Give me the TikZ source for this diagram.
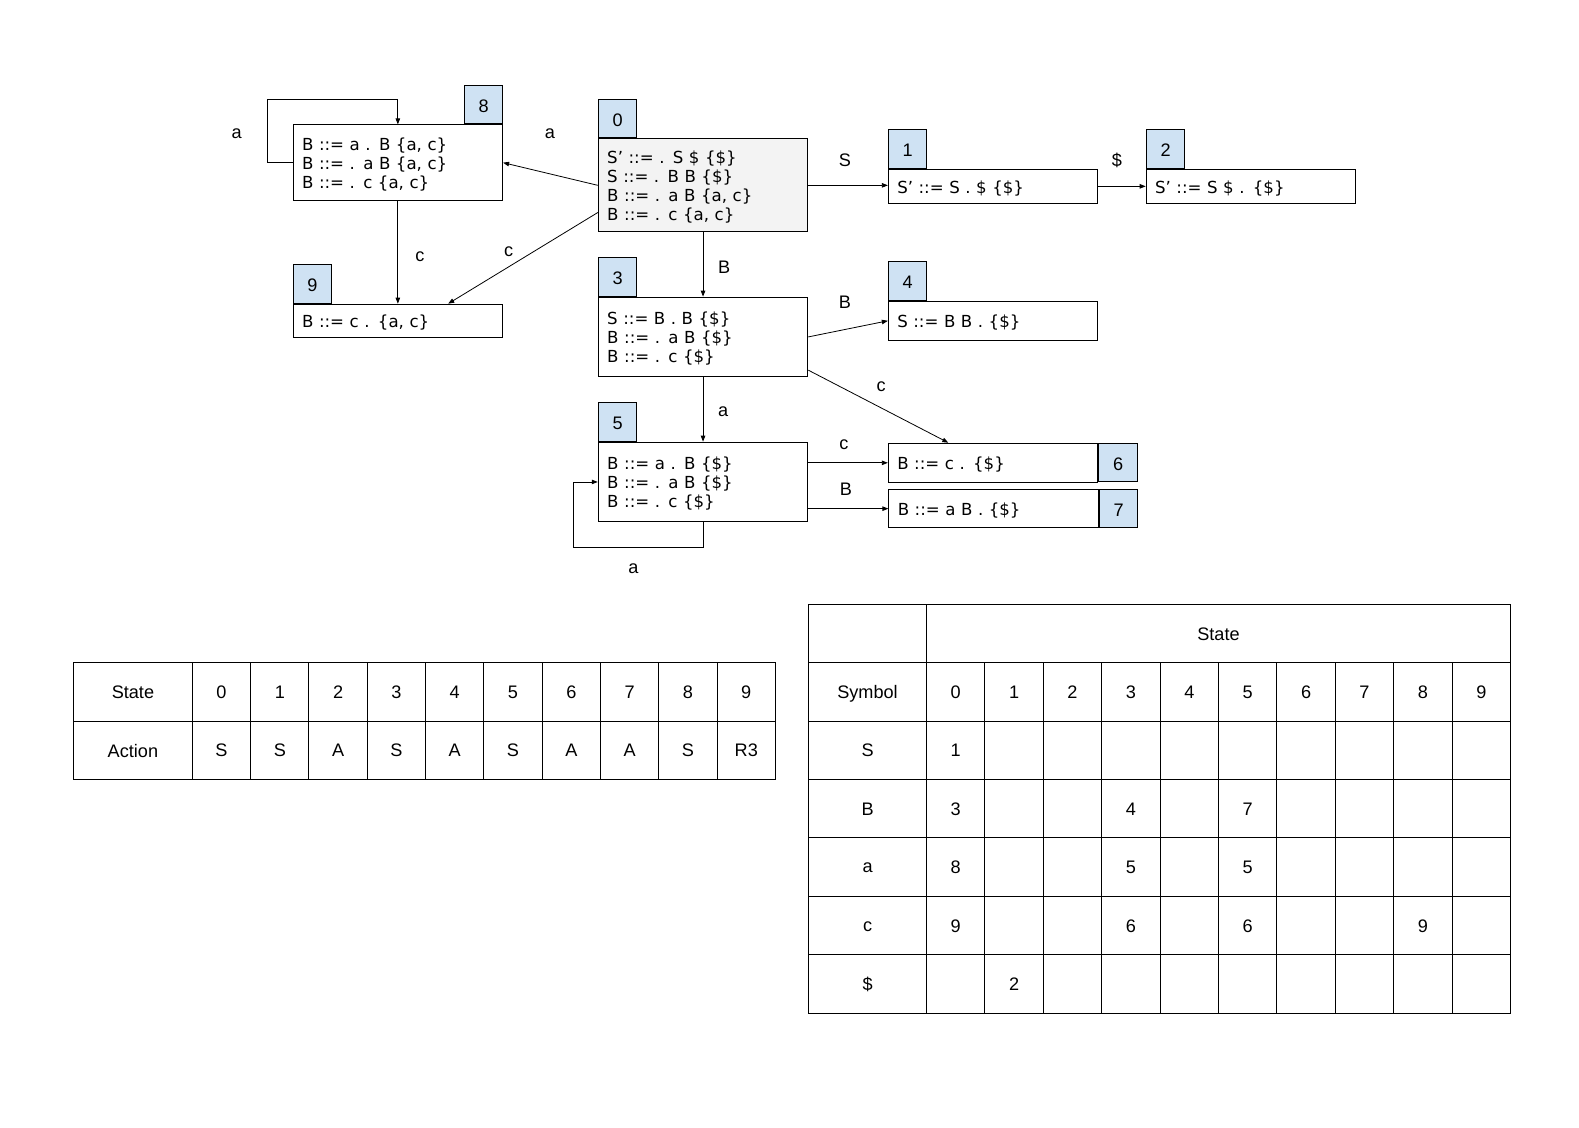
\documentclass[tikz,border=0pt]{standalone}
\usepackage{fontspec}
\setmainfont{Liberation Sans}
\newfontfamily\boxfont{DejaVu Sans}
\usetikzlibrary{calc,arrows.meta}
\definecolor{tagblue}{HTML}{CFE2F3}
\definecolor{startgray}{HTML}{F3F3F3}
\tikzset{
  itembox/.style={draw, fill=white, line width=1pt, minimum width=208pt, text width=190pt,
    align=left, inner xsep=9pt, inner ysep=0pt, font=\boxfont\fontsize{16.5}{19}\selectfont,
    execute at begin node={\rule{0pt}{16.5pt}}},
  tagbox/.style={draw, fill=tagblue, line width=1pt, minimum width=38pt, minimum height=38pt,
    inner sep=0pt, font=\fontsize{18}{18}\selectfont},
  tagnum/.style={inner sep=0pt, font=\fontsize{18}{18}\selectfont},
  lbl/.style={font=\fontsize{18}{18}\selectfont, inner sep=0pt},
  arr/.style={-{Triangle[length=6pt,width=4.5pt]}, line width=0.8pt},
  cell/.style={font=\fontsize{18}{18}\selectfont, inner sep=0pt},
  gridline/.style={line width=1pt},
}
\begin{document}
\begin{tikzpicture}[x=1pt,y=-1pt,scale=1.007,every node/.append style={transform shape}]
\useasboundingbox (0,0) rectangle (1568,1119.2);

% ---------- item boxes ----------
\node[itembox, fill=startgray, minimum height=92pt] (b0) at (698,184)
  {S’ ::= . S \$ \{\$\}\\S ::= . B B \{\$\}\\B ::= . a B \{a, c\}\\B ::= . c \{a, c\}};
\node[itembox, minimum height=75pt] (b8) at (395,161.5)
  {B ::= a . B \{a, c\}\\B ::= . a B \{a, c\}\\B ::= . c \{a, c\}};
\node[itembox, minimum height=34pt] (b1) at (986,185) {S’ ::= S . \$ \{\$\}};
\node[itembox, minimum height=34pt] (b2) at (1242,185) {S’ ::= S \$ . \{\$\}};
\node[itembox, minimum height=33pt] (b9) at (395,318.5) {B ::= c . \{a, c\}};
\node[itembox, minimum height=79pt] (b3) at (698,334.5)
  {S ::= B . B \{\$\}\\B ::= . a B \{\$\}\\B ::= . c \{\$\}};
\node[itembox, minimum height=39pt] (b4) at (986,318.5) {S ::= B B . \{\$\}};
\node[itembox, minimum height=79pt] (b5) at (698,478.5)
  {B ::= a . B \{\$\}\\B ::= . a B \{\$\}\\B ::= . c \{\$\}};
\node[itembox, minimum height=39pt] (b6) at (986,459.5) {B ::= c . \{\$\}};
\node[itembox, minimum height=38pt] (b7) at (986.5,505) {B ::= a B . \{\$\}};

% ---------- state tags ----------
\node[tagbox, anchor=south west] (t0) at (b0.north west) {};
\node[tagbox, anchor=south west] (t1) at (b1.north west) {};
\node[tagbox, anchor=south west] (t2) at (b2.north west) {};
\node[tagbox, anchor=south west] (t3) at (b3.north west) {};
\node[tagbox, anchor=south west] (t4) at (b4.north west) {};
\node[tagbox, anchor=south west] (t5) at (b5.north west) {};
\node[tagbox, anchor=west] (t6) at (b6.east) {};
\node[tagbox, anchor=west] (t7) at (b7.east) {};
\node[tagbox, anchor=south east] (t8) at (b8.north east) {};
\node[tagbox, anchor=south west] (t9) at (b9.north west) {};
\foreach \n in {0,...,9} \node[tagnum] (n\n) at ($(t\n.center)+(0,1.5)$) {\n};

% ---------- transitions ----------
\draw[arr] (b0.west) -- (b8.east);
\draw[arr] ($(b0.west)+(0,27)$) -- ($(b9.north)+(50,0)$);
\draw[arr] (b8.south) -- (b9.north);
\draw[arr] (b8.west) -- ++(-25,0) |- ($(b8.north)+(0,-25)$) -- (b8.north);
\draw[arr] (b0.east) -- (b0.east -| b1.west);
\draw[arr] (b1.east) -- (b2.west);
\draw[arr] (b0.south) -- (b3.north);
\draw[arr] (b3.east) -- (b4.west);
\draw[arr] ($(b3.south east)+(0,-7)$) -- ($(b6.north west)+(60,0)$);
\draw[arr] (b3.south) -- (b5.north);
\draw[arr] (b6.west -| b5.east) -- (b6.west);
\draw[arr] (b7.west -| b5.east) -- (b7.west);
\draw[arr] (b5.south) -- ++(0,25) -| ($(b5.west)+(-24,0)$) -- (b5.west);

% ---------- transition labels ----------
\node[lbl] (l08) at (546,133) {a};
\node[lbl] (l88) at (235,133) {a};
\node[lbl] (l09) at (505,250) {c};
\node[lbl] (l89) at (417,255) {c};
\node[lbl] (l01) at (839,159) {S};
\node[lbl] (l12) at (1109,159) {\$};
\node[lbl] (l03) at (719,265) {B};
\node[lbl] (l34) at (839,300) {B};
\node[lbl] (l36) at (875,384) {c};
\node[lbl] (l35) at (718,409) {a};
\node[lbl] (l56) at (838,442) {c};
\node[lbl] (l57) at (840,486) {B};
\node[lbl] (l55) at (629,565) {a};

% ---------- action table ----------
\draw[gridline] (73,658) rectangle (770,774);
\draw[gridline] (73,716) -- (770,716);
\foreach \i in {0,...,9} \draw[gridline] ({191+57.9*\i},658) -- ({191+57.9*\i},774);
\node[cell] (lt-state) at (132,687.5) {State};
\node[cell] (lt-action) at (132,745.5) {Action};
\foreach \v [count=\i from 0] in {S,S,A,S,A,S,A,A,S,R3} {
  \node[cell] (lt-h\i) at ({191+57.9*\i+28.95},687.5) {\i};
  \node[cell] (lt-a\i) at ({191+57.9*\i+28.95},745.5) {\v};
}

% ---------- goto table ----------
\draw[gridline] (803,600) rectangle (1500,1006);
\foreach \r in {1,...,6} \draw[gridline] (803,{600+58*\r}) -- (1500,{600+58*\r});
\draw[gridline] (920,600) -- (920,1006);
\foreach \i in {1,...,9} \draw[gridline] ({920+58*\i},658) -- ({920+58*\i},1006);
\node[cell] (rt-state) at (1210,629.5) {State};
\node[cell, anchor=base] (rt-symbol) at (861.5,694) {Symbol};
\foreach \i in {0,...,9} \node[cell] (rt-h\i) at ({949+58*\i},687.5) {\i};
\node[cell] (rt-rS) at (861.5,745.5) {S};
\node[cell] (rt-rB) at (861.5,803.5) {B};
\node[cell] (rt-ra) at (861.5,862) {a};
\node[cell] (rt-rc) at (861.5,920) {c};
\node[cell] (rt-rd) at (861.5,977.5) {\$};
\node[cell] (rt-S0) at (949,745.5) {1};
\node[cell] (rt-B0) at (949,803.5) {3};
\node[cell] (rt-B3) at (1123,803.5) {4};
\node[cell] (rt-B5) at (1239,803.5) {7};
\node[cell] (rt-a0) at (949,861.5) {8};
\node[cell] (rt-a3) at (1123,861.5) {5};
\node[cell] (rt-a5) at (1239,861.5) {5};
\node[cell] (rt-c0) at (949,919.5) {9};
\node[cell] (rt-c3) at (1123,919.5) {6};
\node[cell] (rt-c5) at (1239,919.5) {6};
\node[cell] (rt-c8) at (1413,919.5) {9};
\node[cell] (rt-d1) at (1007,977.5) {2};
\end{tikzpicture}
\end{document}
